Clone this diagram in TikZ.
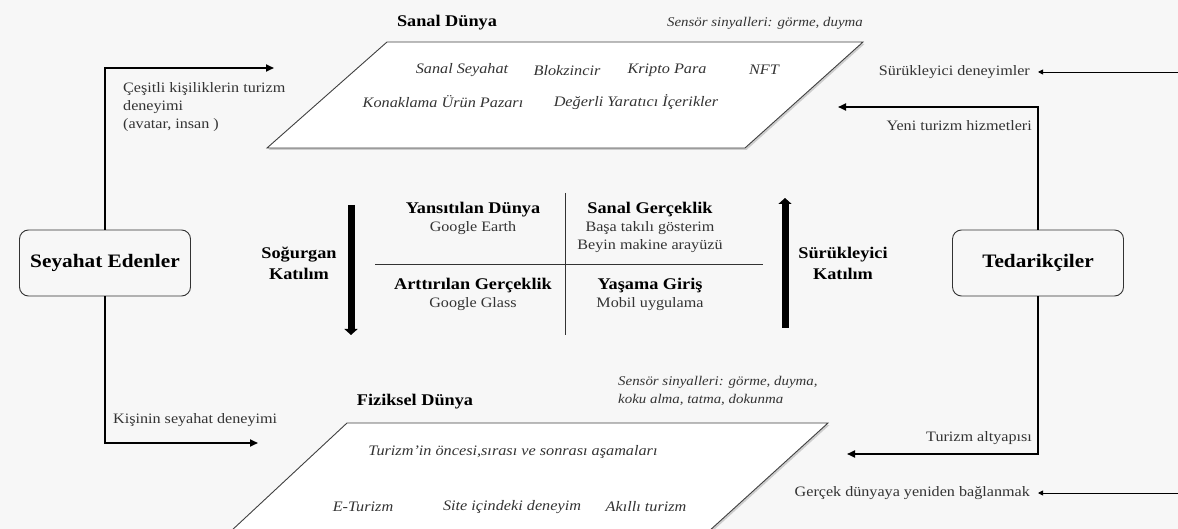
\documentclass[tikz,border=0pt]{standalone}
\usepackage{fontspec}
\setmainfont{Liberation Serif}[FakeStretch=1.12]
\usetikzlibrary{arrows.meta,shadows}
\definecolor{bg}{RGB}{247,247,247}

\begin{document}
\begin{tikzpicture}[x=1pt,y=-1pt,
  world/.style={draw=black!75,line width=0.9pt,fill=white,
    drop shadow={shadow xshift=1.5pt,shadow yshift=-2pt,opacity=0.35}},
  actor/.style={draw=black!80,line width=0.9pt,rounded corners=9pt,fill=bg,
    minimum width=171pt,minimum height=66pt,font=\fontsize{19}{22}\selectfont\bfseries},
  lbl/.style={font=\fontsize{14.4}{18}\selectfont,inner sep=0pt,text=black!80},
  ital/.style={font=\fontsize{14.5}{18}\selectfont\itshape,inner sep=0pt,text=black!80},
  small/.style={font=\fontsize{13.3}{18}\selectfont\itshape,inner sep=0pt,text=black!80},
  head/.style={font=\fontsize{16.3}{21}\selectfont\bfseries,inner sep=0pt},
  flow/.style={line width=1.8pt,-{Triangle[length=8pt,width=7pt]}},
  feed/.style={line width=0.9pt,-{Triangle[length=5pt,width=5pt]}},
  engage/.style={line width=7pt,-{Triangle[length=6pt,width=13pt]}}]
\fill[bg] (0,0) rectangle (1178,529);
\useasboundingbox (0,0) rectangle (1178,529);

% worlds
\draw[world] (387,42) -- (863,42) -- (745,148) -- (267,148) -- cycle;
\draw[world] (347,423) -- (828,423) -- (708,532) -- (230,532) -- cycle;

\draw (447,23) node[head](virtual) {Sanal Dünya};
\draw (765,23) node[small](vsense) {Sensör sinyalleri: görme, duyma};
\draw (462,70) node[ital](vtravel) {Sanal Seyahat};
\draw (567,71) node[ital](chain) {Blokzincir};
\draw (667,70) node[ital](crypto) {Kripto Para};
\draw (764,70) node[ital](nft) {NFT};
\draw (443,102) node[ital](market) {Konaklama Ürün Pazarı};
\draw (636,102) node[ital](creators) {Değerli Yaratıcı İçerikler};

\draw (415,402) node[head](physical) {Fiziksel Dünya};
\draw (618,391) node[small,anchor=west,align=left](psense) {Sensör sinyalleri: görme, duyma,\\koku alma, tatma, dokunma};
\draw (513,452) node[ital](stages) {Turizm'in öncesi,sırası ve sonrası aşamaları};
\draw (363,507) node[ital](etour) {E-Turizm};
\draw (512,507) node[ital](onsite) {Site içindeki deneyim};
\draw (646,507) node[ital](smart) {Akıllı turizm};

% actors
\draw (105,263) node[actor](travel) {Seyahat Edenler};
\draw (1038,263) node[actor](supply) {Tedarikçiler};

\coordinate (vin) at (274,68);
\coordinate (pin) at (258,443);
\coordinate (vout) at (838,107);
\coordinate (pout) at (847,454);
\draw[flow] (travel.north) |- (vin);
\draw[flow] (travel.south) |- (pin);
\draw[flow] (supply.north) |- (vout);
\draw[flow] (supply.south) |- (pout);

\draw (123,107) node[lbl,anchor=west,align=left](various) {Çeşitli kişiliklerin turizm\\deneyimi\\(avatar, insan )};
\draw (113,420) node[lbl,anchor=west](personal) {Kişinin seyahat deneyimi};
\draw (1032,126) node[lbl,anchor=east](newserv) {Yeni turizm hizmetleri};
\draw (1032,438) node[lbl,anchor=east](infra) {Turizm altyapısı};

\draw (1030,72) node[lbl,anchor=east](immexp) {Sürükleyici deneyimler};
\draw (1030,493) node[lbl,anchor=east](reconnect) {Gerçek dünyaya yeniden bağlanmak};
\coordinate (e1) at (1178,72);
\coordinate (e2) at (1178,493);
\draw[feed] (e1) -- ([xshift=8pt]immexp.east);
\draw[feed] (e2) -- ([xshift=8pt]reconnect.east);

% quadrant
\coordinate (qw) at (375,265);
\coordinate (qe) at (763,265);
\coordinate (qn) at (565,193);
\coordinate (qs) at (565,335);
\draw[line width=1pt,black!80] (qw) -- (qe);
\draw[line width=1pt,black!80] (qn) -- (qs);

\draw (473,210) node[head](mirror) {Yansıtılan Dünya};
\draw (473,228) node[lbl](gearth) {Google Earth};
\draw (650,210) node[head](vr) {Sanal Gerçeklik};
\draw (650,237) node[lbl,align=center](vrlist) {Başa takılı gösterim\\Beyin makine arayüzü};
\draw (473,286) node[head](ar) {Arttırılan Gerçeklik};
\draw (473,304) node[lbl](glass) {Google Glass};
\draw (650,286) node[head](life) {Yaşama Giriş};
\draw (650,304) node[lbl](mobile) {Mobil uygulama};

% engagement
\draw (299,263) node[head,align=center](absorb) {Soğurgan\\Katılım};
\draw (843,263) node[head,align=center](immerse) {Sürükleyici\\Katılım};
\coordinate (at) at (351,205);
\coordinate (ab) at (351,335);
\coordinate (it) at (785,198);
\coordinate (ib) at (785,328);
\draw[engage] (at) -- (ab);
\draw[engage] (ib) -- (it);
\end{tikzpicture}
\end{document}
